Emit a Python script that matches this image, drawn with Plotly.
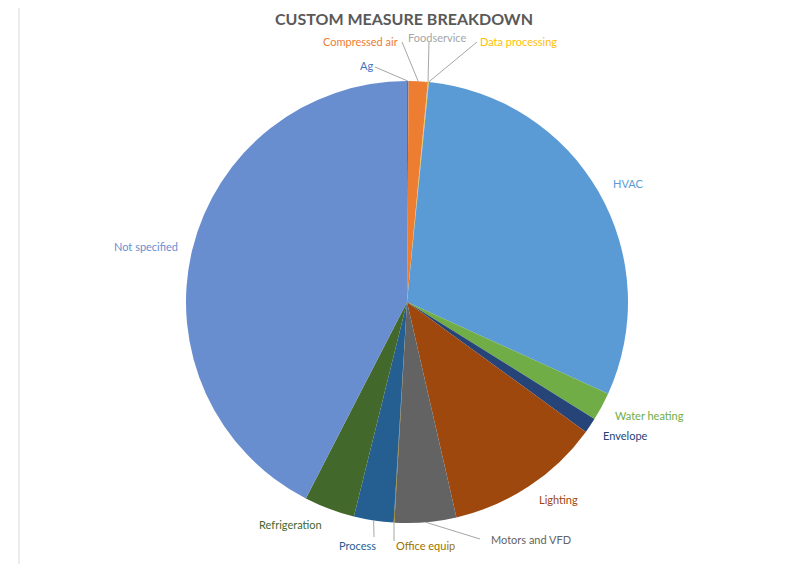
import math
import plotly.graph_objects as go

# ---- data ----
labels = ["Ag", "Compressed air", "Foodservice", "Data processing", "HVAC",
          "Water heating", "Envelope", "Lighting", "Motors and VFD",
          "Office equip", "Process", "Refrigeration", "Not specified"]
values = [0.11, 1.39, 0.03, 0.05, 30.2, 2.08, 1.11, 11.4, 4.5, 0.05, 2.9, 3.7, 42.4]
colors = ["#4472C4", "#ED7D31", "#A5A5A5", "#FFC000", "#5B9BD5", "#70AD47",
          "#264478", "#9E480E", "#636363", "#997300", "#255E91", "#43682B",
          "#698ED0"]
title_text = "CUSTOM MEASURE BREAKDOWN"

# ---- layout geometry (pixels in the window) ----
W, H = 792, 564
OFF = 8  # page body margin
CX, CY, R = 407, 302, 221

# label positions: (x, y, xanchor, leader start or None)
label_layout = {
    "Ag": (375, 66, "right", (375, 67)),
    "Compressed air": (400, 41, "right", (402, 42)),
    "Foodservice": (437, 37, "center", (429, 42)),
    "Data processing": (478, 41, "left", (477, 42)),
    "HVAC": (611, 183, "left", None),
    "Water heating": (613, 415, "left", None),
    "Envelope": (601, 435, "left", None),
    "Lighting": (537, 499, "left", None),
    "Motors and VFD": (489, 539, "left", (480, 539)),
    "Office equip": (394, 545, "left", (394, 541)),
    "Process": (357, 545, "center", (374, 537)),
    "Refrigeration": (290, 524, "center", None),
    "Not specified": (146, 246, "center", None),
}


def px(x):
    return (x - OFF) / W


def py(y):
    return 1 - (y - OFF) / H


fig = go.Figure(go.Pie(
    labels=labels, values=values, sort=False, direction="clockwise",
    rotation=0, textinfo="none", hoverinfo="label+percent",
    marker=dict(colors=colors, line=dict(width=0)),
    domain=dict(x=[px(CX - R), px(CX + R)], y=[py(CY + R), py(CY - R)]),
    showlegend=False,
))

total = sum(values)
annotations = []
shapes = []
cum = 0.0
for lab, val, col in zip(labels, values, colors):
    mid = (cum + val / 2) / total * 2 * math.pi
    cum += val
    ex = CX + R * math.sin(mid)
    ey = CY - R * math.cos(mid)
    x, y, anchor, lead = label_layout[lab]
    annotations.append(dict(
        x=px(x), y=py(y), xref="paper", yref="paper", text=lab,
        showarrow=False, xanchor=anchor, yanchor="middle",
        font=dict(family="Lato", size=11, color=col)))
    if lead is not None:
        shapes.append(dict(type="line", xref="paper", yref="paper",
                           x0=px(lead[0]), y0=py(lead[1]),
                           x1=px(ex), y1=py(ey),
                           line=dict(color="#A6A6A6", width=1)))

annotations.append(dict(
    x=px(404), y=py(19), xref="paper", yref="paper",
    text="<b>" + title_text + "</b>", showarrow=False,
    xanchor="center", yanchor="middle",
    font=dict(family="Lato", size=16, color="#595959")))

# chart-area border (top & left visible)
shapes.append(dict(type="rect", xref="paper", yref="paper",
                   x0=px(19), y0=py(620), x1=px(830), y1=py(5),
                   line=dict(color="#D9D9D9", width=1), layer="below"))

fig.update_layout(
    width=W, height=H, margin=dict(l=0, r=0, t=0, b=0),
    paper_bgcolor="white", plot_bgcolor="white",
    annotations=annotations, shapes=shapes,
)

fig.write_html("out.html")
